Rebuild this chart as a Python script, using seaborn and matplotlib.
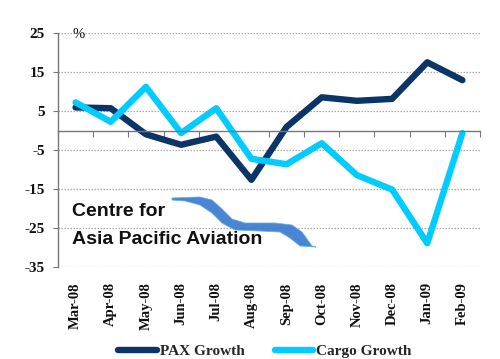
import numpy as np
import pandas as pd
import matplotlib
matplotlib.use("Agg")
import matplotlib.pyplot as plt
import seaborn as sns
from matplotlib.patches import Polygon

months = ["Mar-08", "Apr-08", "May-08", "Jun-08", "Jul-08", "Aug-08",
          "Sep-08", "Oct-08", "Nov-08", "Dec-08", "Jan-09", "Feb-09"]
pax_growth = [6.0, 5.8, -0.9, -3.6, -1.5, -12.6, 1.0, 8.6, 7.7, 8.2, 17.6, 13.0]
cargo_growth = [7.3, 2.3, 11.3, -0.6, 5.8, -7.2, -8.6, -3.2, -11.4, -15.1, -28.9, -0.6]
series_names = ["PAX Growth", "Cargo Growth"]
y_ticks = [25, 15, 5, -5, -15, -25, -35]

df = pd.DataFrame({
    "month": months * 2,
    "value": pax_growth + cargo_growth,
    "series": [series_names[0]] * 12 + [series_names[1]] * 12,
})

sns.set_theme(style="white")
plt.rcParams["font.family"] = ["Liberation Serif", "DejaVu Serif"]

fig = plt.figure(figsize=(5.0, 3.59), dpi=100)
ax = fig.add_axes([0.116, 0.2563, 0.844, 0.6504])

palette = {"PAX Growth": "#0b3567", "Cargo Growth": "#00ccff"}
sns.lineplot(data=df, x="month", y="value", hue="series", palette=palette,
             sort=False, linewidth=4.6, ax=ax, legend=True)

ax.set_xlim(-0.5, 11.5)
ax.set_ylim(-35, 25)
ax.set_yticks(y_ticks)
ax.set_yticklabels([str(v) for v in y_ticks], fontsize=11, fontweight="bold")
ax.set_xlabel("")
ax.set_ylabel("")

# gridlines
for v in y_ticks:
    ax.axhline(v, color="#aaaaaa", linestyle=(0, (1.2, 1.2)), linewidth=0.9, zorder=0)

# spines
for s in ["top", "right"]:
    ax.spines[s].set_visible(False)
ax.spines["left"].set_color("#777777")
ax.spines["left"].set_linewidth(1.0)
ax.spines["bottom"].set_position(("data", 0))
ax.spines["bottom"].set_color("#777777")
ax.spines["bottom"].set_linewidth(1.0)

ax.tick_params(axis="y", which="major", left=True, length=3.5, width=0.8,
               color="#777777", pad=6, labelcolor="#111111")
ax.set_xticks(np.arange(-0.5, 12, 1), minor=True)
ax.tick_params(axis="x", which="minor", bottom=True, length=4, width=0.8,
               color="#777777", direction="out")
ax.tick_params(axis="x", which="major", length=0, labelbottom=False)

sec = ax.secondary_xaxis("bottom")
sec.set_xticks(range(len(months)))
sec.set_xticklabels(months, rotation=90, fontsize=10.5, fontweight="bold",
                    color="#111111")
sec.spines["bottom"].set_visible(False)
sec.tick_params(length=0, pad=11)

ax.text(0.034, 0.995, "%", transform=ax.transAxes, ha="left", va="center",
        fontsize=10.5, color="#111111")

# legend
handles, labels = ax.get_legend_handles_labels()
ax.get_legend().remove()
fig.legend(handles, labels, loc="center", bbox_to_anchor=(0.53, 0.022), ncol=2,
           frameon=False, handlelength=2.5, handletextpad=0.2, columnspacing=2.0,
           prop={"family": "Liberation Serif", "weight": "bold", "size": 11})

# logo
def fx(px):
    return px / 500.0

def fy(py):
    return 1 - py / 359.0

top = [(172, 198), (200, 197), (212, 200), (222, 209), (232, 219), (245, 223),
       (275, 223), (292, 225), (302, 232), (312, 246)]
bottom = [(316, 247), (300, 246), (290, 238), (280, 232), (260, 231), (235, 230),
          (222, 223), (212, 213), (200, 205), (185, 201), (172, 200)]
pts = [(fx(x), fy(y)) for x, y in top + bottom]
fig.patches.append(Polygon(pts, closed=True, transform=fig.transFigure,
                           facecolor="#3479cf", edgecolor="#6aa6e6", linewidth=0.6,
                           alpha=0.9, figure=fig))

fig.text(fx(72), fy(212), "Centre for", ha="left", va="center",
         fontsize=14, fontweight="bold", family="Liberation Sans", color="#111111")
fig.text(fx(72), fy(239), "Asia Pacific Aviation", ha="left", va="center",
         fontsize=14, fontweight="bold", family="Liberation Sans", color="#111111")

fig.savefig("out.png", dpi=100)
